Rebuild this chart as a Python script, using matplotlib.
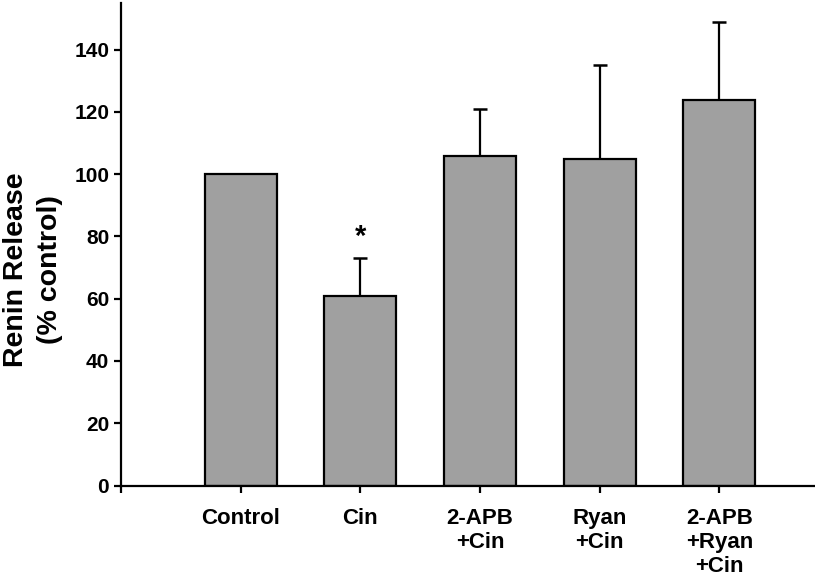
import numpy as np
import matplotlib.pyplot as plt

plt.rcParams['font.family'] = ['Liberation Sans', 'DejaVu Sans']
plt.rcParams['font.weight'] = 'bold'

# Data
categories = ['Control', 'Cin', '2-APB\n+Cin', 'Ryan\n+Cin', '2-APB\n+Ryan\n+Cin']
values = [100, 61, 106, 105, 124]
errors = [0, 12, 15, 30, 25]
positions = np.arange(1, len(categories) + 1)

fig = plt.figure(figsize=(8.15, 5.87), dpi=100)
ax = fig.add_axes([121 / 815, 1 - 485.5 / 587, 1 - 121 / 815, (485.5 - 3) / 587])

ax.bar(positions, values, width=0.6, color='#a0a0a0', edgecolor='black',
       linewidth=1.6, zorder=2)
err_pos = [p for p, e in zip(positions, errors) if e > 0]
err_val = [v for v, e in zip(values, errors) if e > 0]
err_err = [e for e in errors if e > 0]
ax.errorbar(err_pos, err_val, yerr=[np.zeros(len(err_err)), err_err],
            fmt='none', ecolor='black', elinewidth=1.6, capsize=5,
            capthick=1.8, zorder=1)

# significance marker over Cin
ax.text(positions[1], 80, '*', ha='center', va='center', fontsize=21,
        fontweight='bold')

ax.set_xlim(0, 5.8)
ax.set_ylim(0, 155)
ax.set_yticks(np.arange(0, 141, 20))
ax.set_xticks(np.concatenate([[0], positions]))
ax.set_xticklabels([''] + categories, linespacing=1.2, fontsize=16)
ax.tick_params(axis='y', labelsize=15)
ax.tick_params(axis='both', width=1.6, length=5, direction='out')
ax.tick_params(axis='x', pad=11)

for side in ['top', 'right']:
    ax.spines[side].set_visible(False)
for side in ['left', 'bottom']:
    ax.spines[side].set_linewidth(1.6)

fig.text(33 / 815, 1 - 270 / 587, 'Renin Release\n(% control)', rotation=90,
         ha='center', va='center', fontsize=20.5, fontweight='bold',
         linespacing=1.4)

fig.savefig('out.png', dpi=100)
